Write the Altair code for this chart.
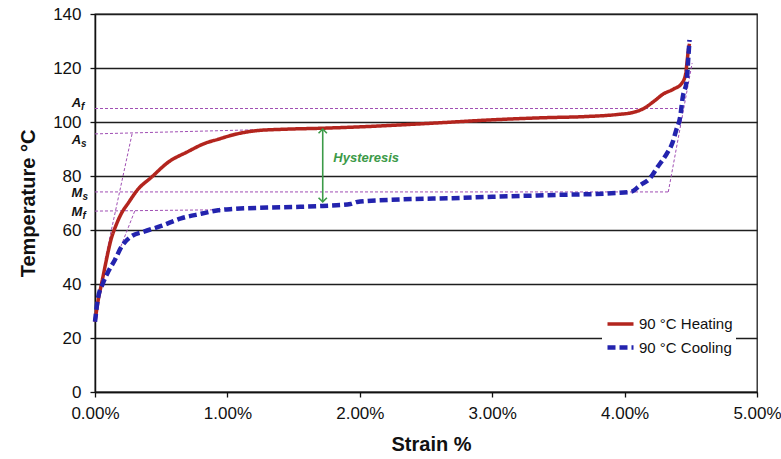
import altair as alt
import pandas as pd

# ---------------- data ----------------
series_names = ["90 °C Heating", "90 °C Cooling"]
series_colors = ["#B3251E", "#2323AE"]

heat_strain = [0, 0.024, 0.05, 0.086, 0.12, 0.16, 0.2, 0.25, 0.32, 0.43, 0.55, 0.70,
               0.83, 0.93, 1.04, 1.22, 1.42, 1.72, 2.05, 2.3, 2.6, 3.0, 3.4, 3.7,
               3.95, 4.06, 4.14, 4.22, 4.29, 4.37, 4.43, 4.46, 4.47, 4.48, 4.49]
heat_temp = [26, 34, 40.2, 48.9, 56.3, 61.9, 66.2, 69.9, 74.8, 79.7, 85.0, 89.0,
             92.1, 93.6, 95.2, 96.8, 97.3, 97.7, 98.3, 98.9, 99.7, 100.8, 101.6, 102.0,
             102.8, 103.5, 104.9, 107.6, 110.3, 112.2, 114.2, 117.5, 121.5, 126.0, 129.0]

cool_strain = [0, 0.02, 0.06, 0.10, 0.15, 0.20, 0.27, 0.37, 0.50, 0.65, 0.80, 0.93,
               1.04, 1.3, 1.55, 1.72, 1.93, 1.98, 2.3, 2.7, 3.0, 3.5, 3.9, 4.05,
               4.12, 4.19, 4.25, 4.32, 4.36, 4.39, 4.42, 4.44, 4.47, 4.48, 4.49]
cool_temp = [26, 34, 40.3, 44.6, 48.9, 53.8, 57.5, 59.4, 61.5, 64.3, 66.0, 67.3,
             67.8, 68.3, 68.6, 68.9, 69.6, 70.4, 71.3, 71.8, 72.3, 73.0, 73.6, 74.2,
             76.7, 79.1, 83.4, 88.4, 92.1, 97.0, 102.0, 109.4, 115.6, 122.9, 130.4]

# construction (tangent) lines: name, start strain, start temp, end strain, end temp
guide_names = ["Af", "As", "As_tan", "Ms", "Mf", "Mf_tan", "right_tan"]
guide_x0 = [0.00, 0.00, 0.28, 0.00, 0.00, 0.30, 4.33]
guide_t0 = [105.0, 95.6, 95.6, 74.1, 67.0, 67.0, 74.1]
guide_x1 = [4.40, 1.35, 0.075, 4.33, 0.95, 0.18, 4.51]
guide_t1 = [105.0, 97.3, 48.9, 74.1, 67.5, 52.0, 121.8]

# transformation temperature labels at the left of the axis
tt_letters = ["A", "A", "M", "M"]
tt_subs = ["f", "s", "s", "f"]
tt_temps = [107.0, 93.3, 73.6, 66.8]
tt_strain = [-0.105, -0.105, -0.095, -0.095]

# hysteresis arrow
hyst_strain = [1.72]
hyst_top = [97.4]
hyst_bottom = [70.4]
hyst_label = ["Hysteresis"]
hyst_label_strain = [1.80]
hyst_label_temp = [86.7]

# ---------------- tables ----------------
rows = []
for i, (s, t) in enumerate(zip(heat_strain, heat_temp)):
    rows.append({"series": series_names[0], "strain": s, "temp": t, "idx": i})
for i, (s, t) in enumerate(zip(cool_strain, cool_temp)):
    rows.append({"series": series_names[1], "strain": s, "temp": t, "idx": i})
curves = pd.DataFrame(rows)

grows = []
for n, a, b, c, d in zip(guide_names, guide_x0, guide_t0, guide_x1, guide_t1):
    grows.append({"seg": n, "strain": a, "temp": b, "idx": 0})
    grows.append({"seg": n, "strain": c, "temp": d, "idx": 1})
guides = pd.DataFrame(grows)

tt = pd.DataFrame({"letter": tt_letters, "sub": tt_subs, "temp": tt_temps, "strain": tt_strain})
hyst = pd.DataFrame({"strain": hyst_strain, "top": hyst_top, "bottom": hyst_bottom})
hyst_txt = pd.DataFrame({"label": hyst_label, "strain": hyst_label_strain, "temp": hyst_label_temp})

FONT = "Liberation Sans"
PURPLE = "#A04FB4"
GREEN = "#3C9A48"

xscale = alt.Scale(domain=[0, 5], nice=False, zero=False)
yscale = alt.Scale(domain=[0, 140], nice=False, zero=False)

x_axis = alt.Axis(
    values=[0, 1, 2, 3, 4, 5],
    labelExpr="format(datum.value, '.2f') + '%'",
    labelFlush=False,
    title="Strain %",
    grid=False,
    tickSize=5,
    labelPadding=8,
    labelFontSize=17,
    titleFontSize=20,
    titleX=336,
    titleY=52,
    titleBaseline="middle",
    titleAlign="center",
)
y_axis = alt.Axis(
    values=[0, 20, 40, 60, 80, 100, 120, 140],
    title="Temperature °C",
    grid=True,
    gridColor="#1e1e1e",
    gridWidth=1.3,
    gridOpacity=1,
    tickSize=5,
    labelPadding=9,
    labelFontSize=17,
    titleFontSize=20,
    titleX=-67,
    titleY=189,
    titleAngle=-90,
    titleAlign="center",
    titleBaseline="middle",
)

X = alt.X("strain:Q", scale=xscale, axis=x_axis)
Y = alt.Y("temp:Q", scale=yscale, axis=y_axis)

guide_layer = alt.Chart(guides).mark_line(
    color=PURPLE, strokeWidth=1, strokeDash=[3, 2]
).encode(x=X, y=Y, detail="seg:N", order="idx:Q")

curve_layer = alt.Chart(curves).mark_line(strokeJoin="round", interpolate="monotone").encode(
    x=X,
    y=Y,
    color=alt.Color("series:N", scale=alt.Scale(domain=series_names, range=series_colors),
                    legend=alt.Legend(title=None)),
    strokeDash=alt.StrokeDash("series:N", scale=alt.Scale(domain=series_names, range=[[1, 0], [8, 4]]),
                              legend=alt.Legend(title=None)),
    strokeWidth=alt.StrokeWidth("series:N", scale=alt.Scale(domain=series_names, range=[3.5, 4.5]),
                                legend=None),
    order="idx:Q",
)

arrow_rule = alt.Chart(hyst).mark_rule(color=GREEN, strokeWidth=1.6).encode(
    x=alt.X("strain:Q", scale=xscale), y=alt.Y("top:Q", scale=yscale), y2="bottom:Q"
)
arrow_up = alt.Chart(hyst).mark_point(
    shape="M -1 1 L 0 0 L 1 1", filled=False, color=GREEN, size=70, strokeWidth=1.6, opacity=1
).encode(x=alt.X("strain:Q", scale=xscale), y=alt.Y("top:Q", scale=yscale))
arrow_down = alt.Chart(hyst).mark_point(
    shape="M -1 -1 L 0 0 L 1 -1", filled=False, color=GREEN, size=70, strokeWidth=1.6, opacity=1
).encode(x=alt.X("strain:Q", scale=xscale), y=alt.Y("bottom:Q", scale=yscale))

hyst_text = alt.Chart(hyst_txt).mark_text(
    color=GREEN, font=FONT, fontSize=13, fontStyle="italic", fontWeight="bold",
    align="left", baseline="middle"
).encode(x=alt.X("strain:Q", scale=xscale), y=alt.Y("temp:Q", scale=yscale), text="label:N")

tt_main = alt.Chart(tt).mark_text(
    font=FONT, fontSize=13, fontStyle="italic", fontWeight="bold", color="#111",
    align="right", baseline="middle"
).encode(x=alt.X("strain:Q", scale=xscale), y=alt.Y("temp:Q", scale=yscale), text="letter:N")
tt_sub = alt.Chart(tt).mark_text(
    font=FONT, fontSize=10, fontStyle="italic", fontWeight="bold", color="#111",
    align="left", baseline="middle", dx=0, dy=4
).encode(x=alt.X("strain:Q", scale=xscale), y=alt.Y("temp:Q", scale=yscale), text="sub:N")

chart = alt.layer(
    guide_layer, curve_layer, arrow_rule, arrow_up, arrow_down, hyst_text, tt_main, tt_sub
).properties(
    width=662,
    height=378,
    padding={"left": 95, "top": 14, "right": 24, "bottom": 67},
    autosize=alt.AutoSizeParams(type="none"),
).configure_view(
    stroke="#1e1e1e", strokeWidth=1.3
).configure_axis(
    labelFont=FONT, titleFont=FONT, labelColor="#111", titleColor="#111",
    titleFontWeight="bold", domainColor="#111", domainWidth=1.5, tickColor="#111",
    tickWidth=1.3
).configure_legend(
    orient="none", legendX=507, legendY=292,
    fillColor="white", padding=3, rowPadding=0,
    symbolType="stroke", symbolSize=676, symbolStrokeWidth=3.5,
    labelFont=FONT, labelFontSize=15, labelColor="#111", labelOffset=3,
)

chart.save("out.html", embed_options={"renderer": "svg", "actions": False})
